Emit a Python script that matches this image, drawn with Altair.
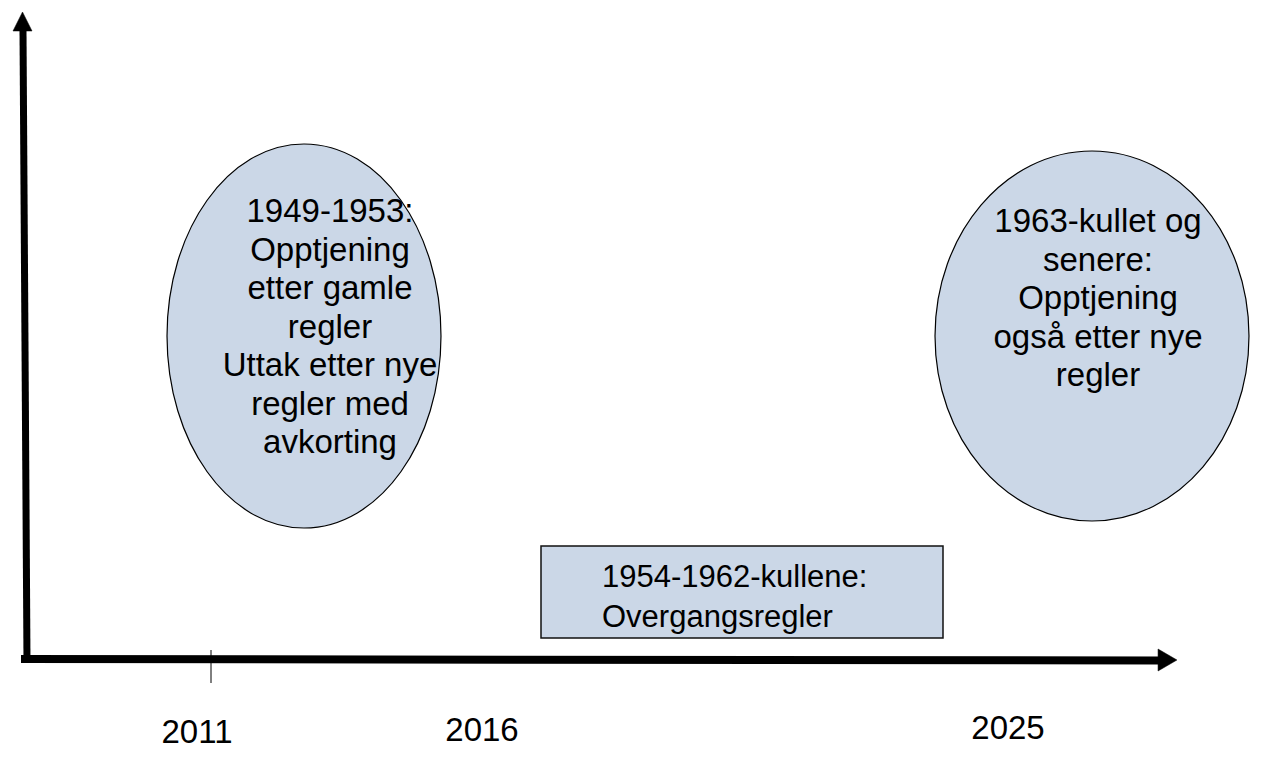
import altair as alt
import pandas as pd

# ---- content ----
year_labels = ["2011", "2016", "2025"]
year_x = [197, 482, 1008]
year_y = [733, 731, 729]

tick_year_x = [211]

ellipse_texts = [
    "1949-1953:\nOpptjening\netter gamle\nregler\nUttak etter nye\nregler med\navkorting",
    "1963-kullet og\nsenere:\nOpptjening\nogså etter nye\nregler",
]
ellipse_cx = [304, 1092]
ellipse_cy = [336, 336]
ellipse_rx = [137, 157]
ellipse_ry = [192, 185]
text_cx = [330, 1098]
text_first_y = [212, 222]

box_text = "1954-1962-kullene:\n Overgangsregler"
box_x = [541]
box_x2 = [943]
box_y = [546]
box_y2 = [638]

FILL = "#cbd7e7"
FONT = "Liberation Sans"

W, H = 1252, 742
xs = alt.Scale(domain=[8, 8 + W], nice=False, zero=False)
ys = alt.Scale(domain=[8, 8 + H], nice=False, zero=False, reverse=True)


def X(f, **k):
    return alt.X(f, scale=xs, axis=None, **k)


def Y(f, **k):
    return alt.Y(f, scale=ys, axis=None, **k)


def ellipse_path(a):
    k = 0.5523
    return (
        f"M 0 -1 C {k*a:.4f} -1 {a:.4f} {-k:.4f} {a:.4f} 0 "
        f"C {a:.4f} {k:.4f} {k*a:.4f} 1 0 1 "
        f"C {-k*a:.4f} 1 {-a:.4f} {k:.4f} {-a:.4f} 0 "
        f"C {-a:.4f} {-k:.4f} {-k*a:.4f} -1 0 -1 Z"
    )


layers = []

# axes shafts
vdf = pd.DataFrame({"x": [23], "y": [31], "x2": [27], "y2": [662]})
layers.append(
    alt.Chart(vdf).mark_rule(color="black", strokeWidth=7, strokeCap="butt").encode(
        x=X("x:Q"), y=Y("y:Q"), x2="x2:Q", y2="y2:Q"
    )
)
hdf = pd.DataFrame({"x": [21], "y": [659], "x2": [1160], "y2": [660.5]})
layers.append(
    alt.Chart(hdf).mark_rule(color="black", strokeWidth=8, strokeCap="butt").encode(
        x=X("x:Q"), y=Y("y:Q"), x2="x2:Q", y2="y2:Q"
    )
)
# arrow heads
up = pd.DataFrame({"x": [22.5], "y": [21.5]})
layers.append(
    alt.Chart(up).mark_point(
        shape="M -1 1 L 0 -1 L 1 1 Z", size=361, fill="black", stroke="black",
        strokeWidth=0.5, opacity=1, fillOpacity=1
    ).encode(x=X("x:Q"), y=Y("y:Q"))
)
right = pd.DataFrame({"x": [1167.5], "y": [660]})
layers.append(
    alt.Chart(right).mark_point(
        shape="M -0.86 -1 L 0.86 0 L -0.86 1 Z", size=484, fill="black", stroke="black",
        strokeWidth=0.5, opacity=1, fillOpacity=1
    ).encode(x=X("x:Q"), y=Y("y:Q"))
)
# tick at 2011
tdf = pd.DataFrame({"x": tick_year_x, "y": [650], "y2": [683]})
layers.append(
    alt.Chart(tdf).mark_rule(color="black", strokeWidth=1).encode(
        x=X("x:Q"), y=Y("y:Q"), y2="y2:Q"
    )
)

# ellipses
for i in range(2):
    edf = pd.DataFrame({"x": [ellipse_cx[i]], "y": [ellipse_cy[i]]})
    layers.append(
        alt.Chart(edf).mark_point(
            shape=ellipse_path(ellipse_rx[i] / ellipse_ry[i]),
            size=(2 * ellipse_ry[i]) ** 2,
            fill=FILL, fillOpacity=1, opacity=1,
            stroke="black", strokeWidth=1.2,
        ).encode(x=X("x:Q"), y=Y("y:Q"))
    )
    txt = pd.DataFrame({"x": [text_cx[i]], "y": [text_first_y[i]], "t": [ellipse_texts[i]]})
    layers.append(
        alt.Chart(txt).mark_text(
            font=FONT, fontSize=33, lineHeight=38.5, align="center", baseline="middle",
            lineBreak="\n", color="black"
        ).encode(x=X("x:Q"), y=Y("y:Q"), text="t:N")
    )

# box
bdf = pd.DataFrame({"x": box_x, "x2": box_x2, "y": box_y, "y2": box_y2})
layers.append(
    alt.Chart(bdf).mark_rect(fill=FILL, stroke="#111111", strokeWidth=1.5, opacity=1).encode(
        x=X("x:Q"), x2="x2:Q", y=Y("y:Q"), y2="y2:Q"
    )
)
btxt = pd.DataFrame({"x": [602], "y": [578], "t": [box_text]})
layers.append(
    alt.Chart(btxt).mark_text(
        font=FONT, fontSize=31, lineHeight=40, align="left", baseline="middle",
        lineBreak="\n", color="black"
    ).encode(x=X("x:Q"), y=Y("y:Q"), text="t:N")
)

# year labels
ydf = pd.DataFrame({"x": year_x, "y": year_y, "t": year_labels})
layers.append(
    alt.Chart(ydf).mark_text(
        font=FONT, fontSize=33, align="center", baseline="middle", color="black"
    ).encode(x=X("x:Q"), y=Y("y:Q"), text="t:N")
)

chart = alt.layer(*layers).properties(
    width=W, height=H, padding=0, autosize=alt.AutoSizeParams(type="none"),
    background="white"
).configure_view(stroke=None)

chart.save("out.html", embed_options={"renderer": "svg", "actions": False})
